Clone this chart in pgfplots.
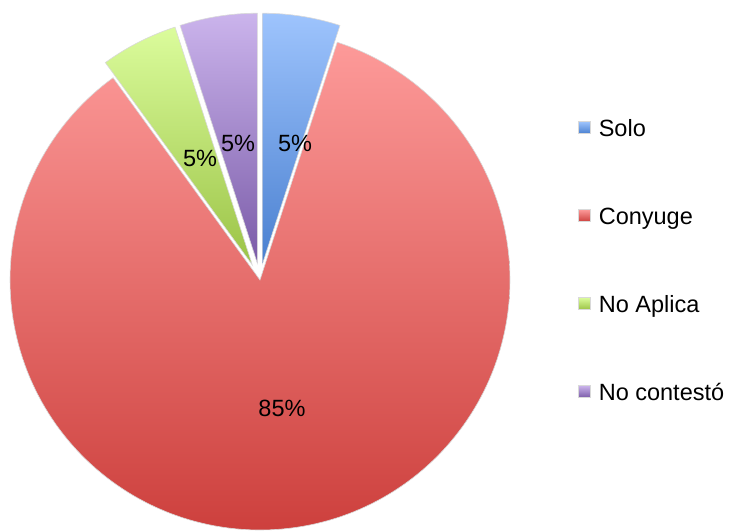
\documentclass[border=0pt]{standalone}
\usepackage{pgfplots}
\usepackage{pgfplotstable}
\pgfplotsset{compat=1.18}
\usepackage{fontspec}
\setmainfont{Liberation Sans}

\definecolor{soloT}{HTML}{9EC4FD}
\definecolor{soloB}{HTML}{4A80D0}
\definecolor{conT}{HTML}{FD9A99}
\definecolor{conB}{HTML}{CD403D}
\definecolor{apT}{HTML}{DBFC9C}
\definecolor{apB}{HTML}{9BC346}
\definecolor{ncT}{HTML}{CBB4EC}
\definecolor{ncB}{HTML}{7A5BA8}

\pgfplotstableread{
label value
Solo 5
Conyuge 85
NoAplica 5
NoContesto 5
}\piedata

\pgfplotstablegetelem{0}{value}\of\piedata \let\vA\pgfplotsretval
\pgfplotstablegetelem{1}{value}\of\piedata \let\vB\pgfplotsretval
\pgfplotstablegetelem{2}{value}\of\piedata \let\vC\pgfplotsretval
\pgfplotstablegetelem{3}{value}\of\piedata \let\vD\pgfplotsretval
% angles, clockwise from 12 o'clock
\pgfmathsetmacro\aA{90}
\pgfmathsetmacro\bA{\aA-3.6*\vA}
\pgfmathsetmacro\bB{\bA-3.6*\vB}
\pgfmathsetmacro\bC{\bB-3.6*\vC}
\pgfmathsetmacro\bD{\bC-3.6*\vD}
\pgfmathsetmacro\mA{(\aA+\bA)/2}
\pgfmathsetmacro\mC{(\bB+\bC)/2}
\pgfmathsetmacro\mD{(\bC+\bD)/2}

\def\cx{260}\def\cy{251}\def\R{250}\def\ex{17}

\begin{document}
\begin{tikzpicture}[font=\fontsize{23.5bp}{28bp}\selectfont]
\begin{axis}[
  scale only axis, width=730bp, height=531bp,
  xmin=0, xmax=730, ymin=0, ymax=531,
  axis lines=none, ticks=none, clip=false,
  legend cell align=left,
  legend style={at={(axis cs:578,412)}, anchor=north west, draw=none, fill=none,
    inner sep=0pt, row sep=66bp,
    nodes={inner sep=0pt, text height=17bp, text depth=5bp, anchor=base west},
    /tikz/every odd column/.append style={column sep=8bp}},
]
\path (rel axis cs:0,0) rectangle (rel axis cs:1,1);
% Solo
\addplot[draw=black!15, line width=0.6bp, top color=soloT, bottom color=soloB, domain=\bA:\aA, samples=30, variable=\t,
  legend image code/.code={\shade[top color=soloT,bottom color=soloB] (0,2.6bp) rectangle (12bp,14.6bp);}]
  ({\cx+\ex*cos(\mA)+\R*cos(t)},{\cy+\ex*sin(\mA)+\R*sin(t)}) -- (axis cs:{\cx+\ex*cos(\mA)},{\cy+\ex*sin(\mA)}) -- cycle;
\addlegendentry{Solo}
% Conyuge
\addplot[draw=black!15, line width=0.6bp, top color=conT, bottom color=conB, domain=\bB:\bA, samples=200, variable=\t,
  legend image code/.code={\shade[top color=conT,bottom color=conB] (0,2.6bp) rectangle (12bp,14.6bp);}]
  ({\cx+\R*cos(t)},{\cy+\R*sin(t)}) -- (axis cs:\cx,\cy) -- cycle;
\addlegendentry{Conyuge}
% No Aplica
\addplot[draw=black!15, line width=0.6bp, top color=apT, bottom color=apB, domain=\bC:\bB, samples=30, variable=\t,
  legend image code/.code={\shade[top color=apT,bottom color=apB] (0,2.6bp) rectangle (12bp,14.6bp);}]
  ({\cx+\ex*cos(\mC)+\R*cos(t)},{\cy+\ex*sin(\mC)+\R*sin(t)}) -- (axis cs:{\cx+\ex*cos(\mC)},{\cy+\ex*sin(\mC)}) -- cycle;
\addlegendentry{No Aplica}
% No contesto
\addplot[draw=black!15, line width=0.6bp, top color=ncT, bottom color=ncB, domain=\bD:\bC, samples=30, variable=\t,
  legend image code/.code={\shade[top color=ncT,bottom color=ncB] (0,2.6bp) rectangle (12bp,14.6bp);}]
  ({\cx+\ex*cos(\mD)+\R*cos(t)},{\cy+\ex*sin(\mD)+\R*sin(t)}) -- (axis cs:{\cx+\ex*cos(\mD)},{\cy+\ex*sin(\mD)}) -- cycle;
\addlegendentry{No contestó}

\node at (axis cs:295,388) {5\%};
\node at (axis cs:238,388) {5\%};
\node at (axis cs:200,373) {5\%};
\node at (axis cs:282,123) {85\%};
\end{axis}
\end{tikzpicture}
\end{document}
